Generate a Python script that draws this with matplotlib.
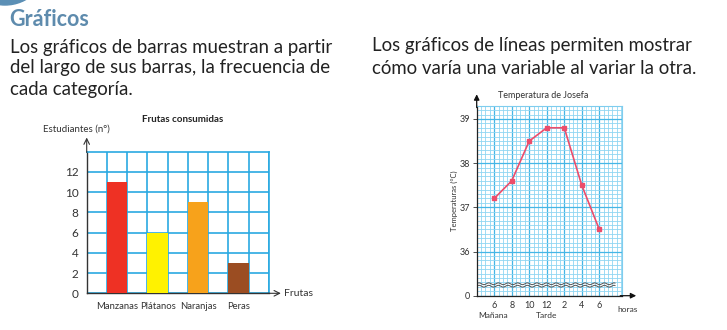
import numpy as np
import matplotlib
matplotlib.use("Agg")
import matplotlib.pyplot as plt
from matplotlib.patches import Circle

plt.rcParams['font.family'] = ['Lato', 'DejaVu Sans']

# datos grafico de barras
frutas = ['Manzanas', 'Plátanos', 'Naranjas', 'Peras']
estudiantes = [11, 6, 9, 3]
colores_barras = ['#ee3124', '#fff200', '#f7a21b', '#9b4d22']
ticks_estudiantes = [0, 2, 4, 6, 8, 10, 12]

# datos grafico de lineas
horas = ['6', '8', '10', '12', '2', '4', '6']
temperaturas = [37.2, 37.6, 38.5, 38.8, 38.8, 37.5, 36.5]
ticks_temp = [35, 36, 37, 38, 39]
etiquetas_temp = ['0', '36', '37', '38', '39']

W, H = 727, 330
fig = plt.figure(figsize=(W / 100, H / 100), dpi=100)


def px_axes(l, t, r, b):
    return fig.add_axes([l / W, 1 - b / H, (r - l) / W, (b - t) / H])


# capa de fondo en pixeles (textos y decoracion)
bg = fig.add_axes([0, 0, 1, 1])
bg.set_xlim(0, W)
bg.set_ylim(H, 0)
bg.axis('off')

azul = '#5e8bad'
bg.add_patch(Circle((5, -37.5), 42.5, color='#5b8fb5', zorder=1))
bg.text(9, 19, 'Gráficos', fontsize=15.5, fontweight='bold', color=azul, va='center')

txt = dict(fontsize=13.4, color='#222222', va='center')
bg.text(10, 47, 'Los gráficos de barras muestran a partir', **txt)
bg.text(10, 68, 'del largo de sus barras, la frecuencia de', **txt)
bg.text(10, 90, 'cada categoría.', **txt)
bg.text(372, 46, 'Los gráficos de líneas permiten mostrar', **txt)
bg.text(372, 68, 'cómo varía una variable al variar la otra.', **txt)

punteado = dict(color='#7fa3bf', lw=2.2, linestyle=(0, (0, 2.3)),
                dash_capstyle='round', solid_capstyle='round')
bg.plot([361, 361], [38, 317], **punteado)
bg.plot([0, W], [325, 325], **punteado)

# ---- grafico de barras ----
ax = px_axes(86.7, 151.7, 269, 293.3)
x = np.arange(len(frutas)) * 2 + 1.5
ax.bar(x, estudiantes, width=1, color=colores_barras, zorder=3)
ax.set_xlim(0, 9)
ax.set_ylim(0, 14)
ax.set_xticks(x, frutas)
ax.set_xticks(np.arange(0, 10), minor=True)
ax.set_yticks(ticks_estudiantes, [str(v) for v in ticks_estudiantes])
ax.grid(axis='x', which='minor', color='#2aa9e1', lw=1.2, zorder=0)
ax.grid(axis='y', which='major', color='#2aa9e1', lw=1.2, zorder=0)
ax.set_axisbelow(True)
ax.tick_params(which='both', length=0, colors='#333333')
ax.tick_params(axis='x', pad=6, labelsize=6.8)
ax.tick_params(axis='y', pad=6, labelsize=8.5)
for s in ['top', 'right']:
    ax.spines[s].set_color('#2aa9e1')
    ax.spines[s].set_linewidth(1.2)
for s in ['left', 'bottom']:
    ax.spines[s].set_color('#333333')
    ax.spines[s].set_linewidth(1)
ax.annotate('', xy=(0, 1.1), xytext=(0, 0.995), xycoords='axes fraction',
            arrowprops=dict(arrowstyle='->', lw=0.8, color='#333333', shrinkA=0, shrinkB=0))
ax.annotate('', xy=(1.065, 0), xytext=(0.995, 0), xycoords='axes fraction',
            arrowprops=dict(arrowstyle='->', lw=0.8, color='#333333', shrinkA=0, shrinkB=0))
ax.text(1.085, 0, 'Frutas', transform=ax.transAxes, fontsize=7.5, va='center', color='#333333')
bg.text(183, 120, 'Frutas consumidas', fontsize=7, fontweight='bold', ha='center', va='center', color='#222222')
bg.text(76, 129, 'Estudiantes (n°)', fontsize=7, ha='center', va='center', color='#333333')

# ---- grafico de lineas ----
ax2 = px_axes(476.7, 105.7, 621.7, 295.7)
xs = np.arange(1, len(horas) + 1)
ax2.plot(xs, temperaturas, color='#ec4d6b', lw=1.2, marker='s', ms=3.5, zorder=5)
ax2.set_xlim(0, 8.28)
ax2.set_ylim(35, 39.3)
ax2.set_xticks(xs, horas)
ax2.set_yticks(ticks_temp, etiquetas_temp)
ax2.set_xticks(np.arange(0, 8.3, 0.25), minor=True)
ax2.set_yticks(np.arange(35, 39.31, 0.1), minor=True)
ax2.grid(which='minor', color='#8fd6f2', lw=0.6, zorder=0)
ax2.grid(which='major', color='#45b6e6', lw=0.9, zorder=0)
ax2.set_axisbelow(True)
ax2.tick_params(which='minor', length=0)
ax2.tick_params(axis='x', which='major', length=0, labelsize=6.5, pad=4, colors='#333333')
ax2.tick_params(axis='y', which='major', length=3, width=0.6, labelsize=6.5, pad=2, colors='#333333')
for s in ['top', 'right']:
    ax2.spines[s].set_color('#7fcdee')
    ax2.spines[s].set_linewidth(0.8)
for s in ['left', 'bottom']:
    ax2.spines[s].set_color('#222222')
    ax2.spines[s].set_linewidth(0.9)
ax2.set_ylabel('Temperaturas (°C)', fontsize=5.5, color='#333333', labelpad=1)

# linea de corte del eje
t = np.linspace(0.1, 7.9, 400)
for y0 in [35.27, 35.215]:
    ax2.plot(t, y0 + 0.02 * np.sin(t * 2 * np.pi / 0.55), color='#555555', lw=0.7, zorder=4)

ax2.annotate('', xy=(0, 1.06), xytext=(0, 0.99), xycoords='axes fraction',
             arrowprops=dict(arrowstyle='-|>', lw=0.9, color='#111111', mutation_scale=8,
                             shrinkA=0, shrinkB=0))
ax2.annotate('', xy=(1.1, 0), xytext=(0.99, 0), xycoords='axes fraction',
             arrowprops=dict(arrowstyle='-|>', lw=0.9, color='#111111', mutation_scale=8,
                             shrinkA=0, shrinkB=0))

bg.text(543, 96, 'Temperatura de Josefa', fontsize=6.5, ha='center', va='center', color='#333333')
bg.text(617, 310, 'horas', fontsize=6, va='center', color='#333333')
bg.text(493, 316, 'Mañana', fontsize=6, ha='center', va='center', color='#333333')
bg.text(547, 316, 'Tarde', fontsize=6, ha='center', va='center', color='#333333')

fig.savefig('out.png', dpi=100)
